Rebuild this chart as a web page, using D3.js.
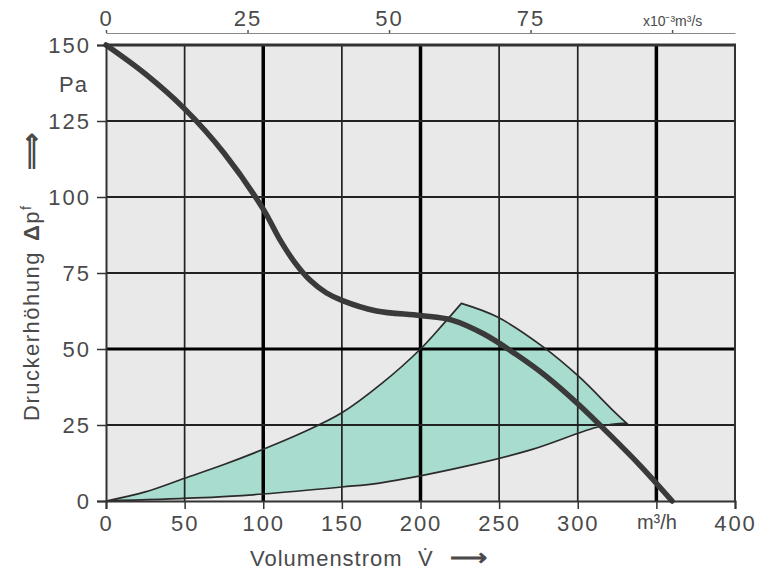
<!DOCTYPE html>
<html lang="de">
<head>
<meta charset="UTF-8">
<title>Kennlinie</title>
<script src="https://d3js.org/d3.v7.min.js"></script>
<style>
    body { margin: 0; background: #fff; }
    svg text { font-family: "Liberation Sans", Arial, sans-serif; fill: #4a4a4a; }
</style>
</head>
<body>
<svg width="757" height="576"></svg>
<script>
    // Kennlinie (Druckerhöhung über Volumenstrom)
    const curveQ = [0, 25, 50, 75, 100, 110, 120, 130, 140, 150, 172, 200, 220, 240, 260, 280, 300, 320, 340, 360];
    const curveP = [150, 140.5, 129, 114.5, 96, 86.5, 78.5, 72.5, 68.5, 66, 62.5, 61, 59.5, 55, 48.5, 41, 32, 22, 11.5, 0];

    // Betriebsbereich (grüne Fläche): oberer Rand, rechter Rand, unterer Rand
    const upperQ = [0, 25, 50, 75, 100, 125, 150, 175, 200, 215, 226];
    const upperP = [0, 3, 7.5, 12, 17, 22.5, 29, 38.5, 50, 58.5, 65];
    const edgeQ = [226, 249, 278, 301, 322, 331];
    const edgeP = [65, 60.5, 50.7, 40.8, 30, 25.6];
    const lowerQ = [331, 314, 270, 227, 174, 150, 100, 57, 0];
    const lowerP = [25.6, 24.5, 16.8, 11.2, 5.9, 4.6, 2.3, 1, 0];

    const xTicks = [0, 50, 100, 150, 200, 250, 300, 350, 400];
    const xTickLabels = ["0", "50", "100", "150", "200", "250", "300", "m³/h", "400"];
    const yTicks = [0, 25, 50, 75, 100, 125, 150];
    const topTicks = [0, 25, 50, 75, 100];
    const topTickLabels = ["0", "25", "50", "75", "x10⁻³m³/s"];
    const thickX = [100, 200, 350];
    const thickY = [50];

    const svg = d3.select("svg");
    const m = { left: 106, right: 735, top: 45, bottom: 501 };

    const x = d3.scaleLinear().domain([0, 400]).range([m.left, m.right]);
    const y = d3.scaleLinear().domain([0, 150]).range([m.bottom, m.top]);
    // 1 m³/h = 1/3.6 * 10^-3 m³/s
    const xTop = d3.scaleLinear().domain([0, 400 / 3.6]).range([m.left, m.right]);

    const zip = (a, b) => a.map((v, i) => [v, b[i]]);

    svg.append("rect")
        .attr("x", m.left).attr("y", m.top)
        .attr("width", m.right - m.left).attr("height", m.bottom - m.top)
        .attr("fill", "#e9e9e9");

    const line = d3.line()
        .x(d => x(d[0]))
        .y(d => y(d[1]))
        .curve(d3.curveCatmullRom);

    // green region as one closed path
    const areaPath = line(zip(upperQ, upperP))
        + line(zip(edgeQ, edgeP)).replace(/^M/, "L")
        + line(zip(lowerQ, lowerP)).replace(/^M/, "L") + "Z";

    svg.append("path")
        .attr("d", areaPath)
        .attr("fill", "#a8dccf");

    // grid
    svg.append("g").selectAll("line")
        .data(xTicks.slice(1, -1))
        .enter().append("line")
        .attr("x1", d => x(d)).attr("x2", d => x(d))
        .attr("y1", m.top).attr("y2", m.bottom)
        .attr("stroke", d => thickX.includes(d) ? "#000" : "#222")
        .attr("stroke-width", d => thickX.includes(d) ? 3.5 : 1.7);

    svg.append("g").selectAll("line")
        .data(yTicks.slice(1, -1))
        .enter().append("line")
        .attr("x1", m.left).attr("x2", m.right)
        .attr("y1", d => y(d)).attr("y2", d => y(d))
        .attr("stroke", d => thickY.includes(d) ? "#000" : "#222")
        .attr("stroke-width", d => thickY.includes(d) ? 3 : 1.8);

    // outline of the green region
    svg.append("path")
        .attr("d", areaPath)
        .attr("fill", "none")
        .attr("stroke", "#2b2b2b")
        .attr("stroke-width", 1.7);

    // frame
    svg.append("line").attr("x1", m.left - 2).attr("x2", m.right + 1).attr("y1", m.top).attr("y2", m.top)
        .attr("stroke", "#333").attr("stroke-width", 3);
    svg.append("line").attr("x1", m.right).attr("x2", m.right).attr("y1", m.top).attr("y2", m.bottom)
        .attr("stroke", "#333").attr("stroke-width", 2);

    // main characteristic
    svg.append("path")
        .attr("d", line(zip(curveQ, curveP)))
        .attr("fill", "none")
        .attr("stroke", "#3a3a3a")
        .attr("stroke-width", 5.5)
        .attr("stroke-linecap", "round");

    // axes
    const xAxis = svg.append("g")
        .attr("transform", "translate(0," + m.bottom + ")")
        .call(d3.axisBottom(x).tickValues(xTicks)
            .tickFormat((d, i) => xTickLabels[i]).tickSize(8).tickPadding(6));

    const yAxis = svg.append("g")
        .attr("transform", "translate(" + m.left + ",0)")
        .call(d3.axisLeft(y).tickValues(yTicks).tickSize(9).tickPadding(6));

    const topAxis = svg.append("g")
        .attr("transform", "translate(0,33)")
        .call(d3.axisTop(xTop).tickValues(topTicks)
            .tickFormat((d, i) => topTickLabels[i]).tickSize(3).tickSizeOuter(0).tickPadding(4));

    [xAxis, yAxis, topAxis].forEach(a => {
        a.select(".domain").attr("stroke", "#333").attr("stroke-width", 2);
        a.selectAll(".tick line").attr("stroke", "#333").attr("stroke-width", 1.5);
        a.selectAll(".tick text")
            .style("font-family", "'Liberation Sans', Arial, sans-serif")
            .style("font-size", "22px")
            .style("letter-spacing", "2px")
            .attr("fill", "#4a4a4a");
    });
    topAxis.select(".domain").attr("stroke", "#888").attr("stroke-width", 1.2);
    topAxis.selectAll(".tick line").attr("stroke", "#555");
    topAxis.selectAll(".tick text").filter((d, i) => i === 4)
        .style("font-size", "14px").style("letter-spacing", "0px");
    xAxis.selectAll(".tick text").filter((d, i) => i === 7)
        .style("letter-spacing", "0px").style("font-size", "20px");

    svg.append("text")
        .attr("x", 88).attr("y", 92)
        .attr("text-anchor", "end")
        .style("font-size", "22px")
        .style("letter-spacing", "1px")
        .text("Pa");

    // axis titles
    svg.append("text")
        .attr("x", 250).attr("y", 566)
        .style("font-size", "22px")
        .style("letter-spacing", "1px")
        .text("Volumenstrom");
    svg.append("text")
        .attr("x", 418).attr("y", 566)
        .style("font-size", "22px")
        .text("V\u0307");
    svg.append("text")
        .attr("x", 450).attr("y", 566)
        .style("font-size", "26px")
        .style("font-weight", "bold")
        .text("\u27F6");

    const yTitle = svg.append("text")
        .attr("transform", "translate(39,421) rotate(-90)")
        .style("font-size", "22px")
        .style("letter-spacing", "1.5px");
    yTitle.append("tspan").text("Druckerhöhung");
    yTitle.append("tspan").attr("dx", 10).style("font-weight", "bold").text("Δ");
    yTitle.append("tspan").text("p");
    yTitle.append("tspan").attr("dy", -8).style("font-size", "14px").text("f");

    svg.append("text")
        .attr("transform", "translate(40,170) rotate(-90)")
        .style("font-size", "26px")
        .style("font-weight", "bold")
        .text("\u27F9");
</script>
</body>
</html>
